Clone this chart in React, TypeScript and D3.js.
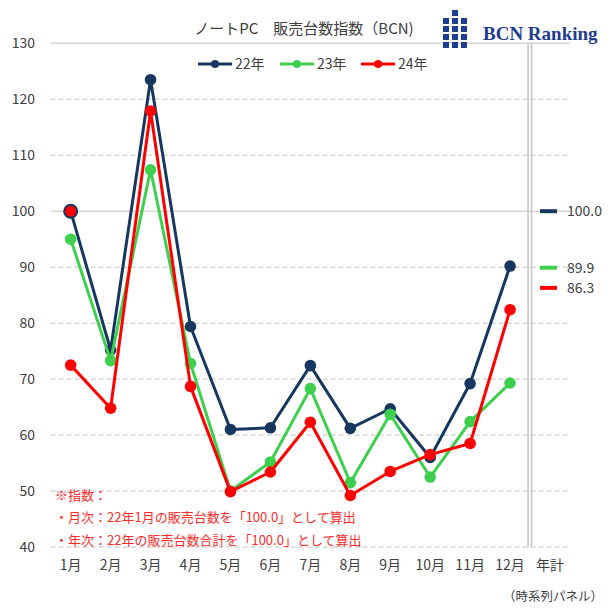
import * as d3 from "d3";

const months = ["1月", "2月", "3月", "4月", "5月", "6月", "7月", "8月", "9月", "10月", "11月", "12月"];
const xCats = [...months, "年計"];
const yTicks = [40, 50, 60, 70, 80, 90, 100, 110, 120, 130];
const seriesNames = ["22年", "23年", "24年"];
const s22 = [100, 75.2, 123.5, 79.4, 61.0, 61.3, 72.4, 61.2, 64.7, 56.0, 69.2, 90.2];
const s23 = [95.0, 73.3, 107.4, 72.8, 50.0, 55.2, 68.3, 51.5, 63.7, 52.5, 62.4, 69.3];
const s24 = [72.5, 64.8, 117.9, 68.7, 49.9, 53.4, 62.3, 49.2, 53.5, 56.5, 58.5, 82.4];
const annual = [100.0, 89.9, 86.3];
const notes = ["※指数：", "・月次：22年1月の販売台数を「100.0」として算出", "・年次：22年の販売台数合計を「100.0」として算出"];

const colors = ["#17375e", "#3fcf4f", "#ff0000"];
const font = "'Noto Sans CJK JP', 'Noto Sans', sans-serif";

export default function App() {
  const W = 614;
  const H = 614;
  const x = d3.scaleBand<string>().domain(xCats).range([50.7, 570]);
  const cx = (c: string) => (x(c) ?? 0) + x.bandwidth() / 2;
  const y = d3.scaleLinear().domain([40, 130]).range([547, 43.3]);
  const line = d3
    .line<number>()
    .x((_d, i) => cx(months[i]))
    .y((d) => y(d));
  const data = [s22, s23, s24];
  const sepX = (x("年計") ?? 0) - 2;

  const legendX = [198, 280, 361];

  return (
    <div style={{ position: "fixed", left: 0, top: 0 }}>
      <svg width={W} height={H} style={{ display: "block", background: "#fff" }} fontFamily={font}>
        {/* grid */}
        {yTicks.map((t) => (
          <g key={t}>
            <line
              x1={50.7}
              x2={570}
              y1={y(t)}
              y2={y(t)}
              stroke="#d6d6d6"
              strokeWidth={1.5}
              strokeDasharray={t === 100 || t === 130 ? undefined : "5 3"}
            />
            <text x={35} y={y(t)} dy="0.35em" textAnchor="end" fontSize={14} fill="#404040">
              {t}
            </text>
          </g>
        ))}
        <line x1={sepX} x2={sepX} y1={y(130)} y2={y(40)} stroke="#c4c4c4" strokeWidth={1.5} />
        <line x1={sepX + 3.5} x2={sepX + 3.5} y1={y(130)} y2={y(40)} stroke="#c4c4c4" strokeWidth={1.5} />

        {/* x labels */}
        {xCats.map((c) => (
          <text key={c} x={cx(c)} y={565} dy="0.35em" textAnchor="middle" fontSize={14} fill="#404040">
            {c}
          </text>
        ))}

        {/* notes */}
        {notes.map((n, i) => (
          <text key={i} x={55} y={495 + i * 22.5} dy="0.35em" fontSize={13} fill="#ff2a2a">
            {n}
          </text>
        ))}

        {/* series */}
        {data.map((s, k) => (
          <g key={k}>
            <path d={line(s) ?? ""} fill="none" stroke={colors[k]} strokeWidth={3} strokeLinejoin="round" />
            {s.map((v, i) => (
              <circle key={i} cx={cx(months[i])} cy={y(v)} r={5.8} fill={colors[k]} />
            ))}
          </g>
        ))}
        {/* base point */}
        <circle cx={cx(months[0])} cy={y(s22[0])} r={6.5} fill="#ff0000" stroke={colors[0]} strokeWidth={2} />

        {/* annual */}
        {annual.map((v, k) => (
          <g key={k}>
            <line x1={540} x2={557} y1={y(v)} y2={y(v)} stroke={colors[k]} strokeWidth={4} />
            <text x={567} y={y(v)} dy="0.35em" fontSize={14} fill="#404040">
              {v.toFixed(1)}
            </text>
          </g>
        ))}

        {/* title */}
        <text x={304} y={29} dy="0.35em" textAnchor="middle" fontSize={15} fill="#404040">
          ノートPC　販売台数指数（BCN)
        </text>

        {/* legend */}
        {seriesNames.map((n, k) => (
          <g key={n}>
            <line x1={legendX[k]} x2={legendX[k] + 34} y1={64} y2={64} stroke={colors[k]} strokeWidth={3} />
            <circle cx={legendX[k] + 17} cy={64} r={4} fill={colors[k]} />
            <text x={legendX[k] + 37} y={64} dy="0.35em" fontSize={14} fill="#404040">
              {n}
            </text>
          </g>
        ))}

        {/* logo */}
        <g fill="#1f3c8f">
          {[0, 1, 2].map((c) =>
            [0, 1, 2, 3, 4]
              .filter((r) => c === 1 || r > 0)
              .map((r) => <rect key={`${c}-${r}`} x={443 + c * 9} y={10 + r * 8} width={6} height={6} />)
          )}
        </g>
        <text x={483} y={33} dy="0.35em" fontSize={19} fontWeight="bold" fill="#1f3c8f" fontFamily="'Liberation Serif', 'DejaVu Serif', serif">
          BCN Ranking
        </text>

        {/* footer */}
        <text x={603} y={597} dy="0.35em" textAnchor="end" fontSize={12.5} fill="#404040">
          （時系列パネル）
        </text>
      </svg>
    </div>
  );
}
